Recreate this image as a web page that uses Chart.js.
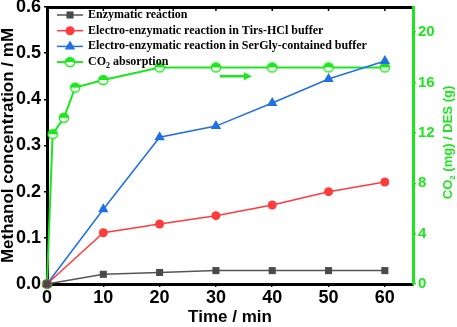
<!DOCTYPE html>
<html>
<head>
<meta charset="utf-8">
<script src="https://cdn.jsdelivr.net/npm/chart.js@4.4.0/dist/chart.umd.min.js"></script>
<style>
  html, body { margin: 0; padding: 0; background: #fff; }
  #chart { display: block; }
</style>
</head>
<body>
<canvas id="chart" width="457" height="327"></canvas>
<script>
// data
const timeMin = [0, 10, 20, 30, 40, 50, 60];
const enzymatic = [0, 0.021, 0.025, 0.029, 0.029, 0.029, 0.029];
const trisHCl = [0, 0.111, 0.130, 0.148, 0.171, 0.200, 0.221];
const serGly = [0, 0.162, 0.318, 0.342, 0.392, 0.444, 0.483];
const co2Time = [0, 1, 3, 5, 10, 20, 30, 40, 50, 60];
const co2Absorb = [0, 11.9, 13.2, 15.6, 16.2, 17.2, 17.2, 17.2, 17.2, 17.2];

const timeTicks = [0, 10, 20, 30, 40, 50, 60];
const methanolTicks = [0, 0.1, 0.2, 0.3, 0.4, 0.5, 0.6];
const co2Ticks = [0, 4, 8, 12, 16, 20];

const seriesLabels = [
  "Enzymatic reaction",
  "Electro-enzymatic reaction in Tirs-HCl buffer",
  "Electro-enzymatic reaction in SerGly-contained buffer",
  "CO₂ absorption",
];
const xTitle = "Time / min";
const yTitle = "Methanol concentration / mM";
const y2Title = "CO₂ (mg) / DES (g)";

const GRAY = "#4a4a4a";
const RED = "#ff3b3b";
const BLUE = "#1f6fe6";
const GREEN = "#1ee61e";
const SANS = "'Liberation Sans', Arial, sans-serif";
const SERIF = "'Liberation Serif', 'Times New Roman', serif";

function toXY(xs, ys) {
  return xs.map((x, i) => ({ x: x, y: ys[i] }));
}

// half filled circle marker (top half green)
function halfCircle(r) {
  const c = document.createElement("canvas");
  const s = 12;
  c.width = s;
  c.height = s;
  const g = c.getContext("2d");
  const m = s / 2;
  g.beginPath();
  g.arc(m, m, r, 0, Math.PI * 2);
  g.fillStyle = "#fff";
  g.fill();
  g.beginPath();
  g.arc(m, m, r, Math.PI, 0);
  g.closePath();
  g.fillStyle = GREEN;
  g.fill();
  g.beginPath();
  g.arc(m, m, r, 0, Math.PI * 2);
  g.lineWidth = 1.5;
  g.strokeStyle = GREEN;
  g.stroke();
  return c;
}
const co2Marker = halfCircle(4.6);

// text with a "₂" drawn as a real subscript
function drawSubText(ctx, text, x, y, size, weight, family, color) {
  const parts = text.split("₂");
  ctx.fillStyle = color;
  ctx.textBaseline = "middle";
  ctx.textAlign = "left";
  let cx = x;
  parts.forEach((p, i) => {
    ctx.font = weight + " " + size + "px " + family;
    ctx.fillText(p, cx, y);
    cx += ctx.measureText(p).width;
    if (i < parts.length - 1) {
      ctx.font = weight + " " + Math.round(size * 0.65) + "px " + family;
      ctx.fillText("2", cx, y + size * 0.3);
      cx += ctx.measureText("2").width;
    }
  });
  return cx - x;
}
function measureSubText(ctx, text, size, weight, family) {
  const parts = text.split("₂");
  let w = 0;
  parts.forEach((p, i) => {
    ctx.font = weight + " " + size + "px " + family;
    w += ctx.measureText(p).width;
    if (i < parts.length - 1) {
      ctx.font = weight + " " + Math.round(size * 0.65) + "px " + family;
      w += ctx.measureText("2").width;
    }
  });
  return w;
}

function drawMarker(ctx, ds, x, y) {
  const style = ds.pointStyle;
  const r = ds.pointRadius;
  ctx.save();
  ctx.fillStyle = ds.pointBackgroundColor;
  if (style instanceof HTMLCanvasElement) {
    ctx.drawImage(style, x - style.width / 2, y - style.height / 2);
  } else if (style === "rect") {
    const s = r * Math.SQRT1_2;
    ctx.fillRect(x - s, y - s, 2 * s, 2 * s);
  } else if (style === "triangle") {
    ctx.beginPath();
    ctx.moveTo(x, y - r);
    ctx.lineTo(x + r * 0.866, y + r * 0.5);
    ctx.lineTo(x - r * 0.866, y + r * 0.5);
    ctx.closePath();
    ctx.fill();
  } else {
    ctx.beginPath();
    ctx.arc(x, y, r, 0, Math.PI * 2);
    ctx.fill();
  }
  ctx.restore();
}

// keep the plot frame where the figure has it
function noVertPadding(s) {
  s.paddingTop = 0;
  s.paddingBottom = 0;
}

const decor = {
  id: "decor",
  afterDraw(chart) {
    const ctx = chart.ctx;
    const area = chart.chartArea;
    const xs = chart.scales.x;
    const y2 = chart.scales.y2;

    // inward ticks on the top frame
    ctx.save();
    ctx.strokeStyle = "#000";
    ctx.lineWidth = 1.5;
    timeTicks.forEach((t) => {
      if (t === 0) return;
      const px = xs.getPixelForValue(t);
      ctx.beginPath();
      ctx.moveTo(px, area.top);
      ctx.lineTo(px, area.top + 4);
      ctx.stroke();
    });
    ctx.restore();

    // arrow pointing to the right-hand axis
    const ax0 = xs.getPixelForValue(30.7);
    const ax1 = xs.getPixelForValue(36.4);
    const ay = y2.getPixelForValue(16.5);
    ctx.save();
    ctx.strokeStyle = GREEN;
    ctx.fillStyle = GREEN;
    ctx.lineWidth = 2.5;
    ctx.beginPath();
    ctx.moveTo(ax0, ay);
    ctx.lineTo(ax1 - 6, ay);
    ctx.stroke();
    ctx.beginPath();
    ctx.moveTo(ax1, ay);
    ctx.lineTo(ax1 - 8, ay - 4);
    ctx.lineTo(ax1 - 8, ay + 4);
    ctx.closePath();
    ctx.fill();
    ctx.restore();

    // right axis title, reading bottom to top
    ctx.save();
    const midY = (area.top + area.bottom) / 2 - 3;
    const tw = measureSubText(ctx, y2Title, 13, "bold", SANS);
    ctx.translate(448.5, midY);
    ctx.rotate(-Math.PI / 2);
    drawSubText(ctx, y2Title, -tw / 2, 0, 13, "bold", SANS, GREEN);
    ctx.restore();

    // legend in the upper left corner
    ctx.save();
    const lx = area.left + 10;
    let ly = area.top + 8;
    chart.data.datasets.forEach((ds) => {
      ctx.strokeStyle = ds.borderColor;
      ctx.lineWidth = ds.borderWidth;
      ctx.beginPath();
      ctx.moveTo(lx, ly);
      ctx.lineTo(lx + 26, ly);
      ctx.stroke();
      drawMarker(ctx, ds, lx + 13, ly);
      drawSubText(ctx, ds.label, lx + 31, ly, 12, "bold", SERIF, "#000");
      ly += 15.7;
    });
    ctx.restore();
  },
};

new Chart(document.getElementById("chart"), {
  type: "line",
  data: {
    datasets: [
      {
        label: seriesLabels[0],
        data: toXY(timeMin, enzymatic),
        borderColor: "#555",
        borderWidth: 1.5,
        pointStyle: "rect",
        pointRadius: 5,
        pointBackgroundColor: GRAY,
        pointBorderColor: GRAY,
        pointBorderWidth: 0,
        yAxisID: "y",
        clip: false,
      },
      {
        label: seriesLabels[1],
        data: toXY(timeMin, trisHCl),
        borderColor: RED,
        borderWidth: 1.5,
        pointStyle: "circle",
        pointRadius: 4.5,
        pointBackgroundColor: RED,
        pointBorderColor: RED,
        pointBorderWidth: 0,
        yAxisID: "y",
        clip: false,
      },
      {
        label: seriesLabels[2],
        data: toXY(timeMin, serGly),
        borderColor: BLUE,
        borderWidth: 1.5,
        pointStyle: "triangle",
        pointRadius: 6,
        pointBackgroundColor: BLUE,
        pointBorderColor: BLUE,
        pointBorderWidth: 0,
        yAxisID: "y",
        clip: false,
      },
      {
        label: seriesLabels[3],
        data: toXY(co2Time, co2Absorb),
        borderColor: GREEN,
        borderWidth: 2,
        pointStyle: co2Marker,
        pointRadius: 4.6,
        pointBackgroundColor: GREEN,
        pointBorderColor: GREEN,
        yAxisID: "y2",
        clip: false,
      },
    ],
  },
  options: {
    responsive: false,
    animation: false,
    events: [],
    layout: { padding: { top: 7, left: 0, right: 0, bottom: 0 } },
    elements: { line: { tension: 0 } },
    plugins: {
      legend: { display: false },
      tooltip: { enabled: false },
    },
    scales: {
      x: {
        type: "linear",
        position: "bottom",
        min: 0,
        max: 65,
        afterBuildTicks: (s) => { s.ticks = timeTicks.map((v) => ({ value: v })); },
        afterFit: (s) => { s.height = 43; },
        ticks: {
          color: "#000",
          font: { family: SANS, size: 18, weight: "bold" },
          padding: 0,
          maxRotation: 0,
        },
        grid: { drawOnChartArea: false, tickLength: 3, color: "#000", lineWidth: 1.5 },
        border: { color: "#000", width: 3 },
        title: {
          display: true,
          text: xTitle,
          color: "#000",
          font: { family: SANS, size: 17, weight: "bold", lineHeight: 1 },
          padding: { top: 0, bottom: 1 },
        },
      },
      xTop: {
        type: "linear",
        position: "top",
        min: 0,
        max: 65,
        afterFit: (s) => { s.height = 0; },
        ticks: { display: false },
        grid: { display: false },
        border: { color: "#000", width: 3 },
      },
      y: {
        type: "linear",
        position: "left",
        min: 0,
        max: 0.6,
        afterBuildTicks: (s) => { s.ticks = methanolTicks.map((v) => ({ value: v })); },
        afterFit: (s) => { s.width = 47; noVertPadding(s); },
        ticks: {
          color: "#000",
          font: { family: SANS, size: 18, weight: "bold" },
          padding: 3,
          callback: (v) => v.toFixed(1),
        },
        grid: { drawOnChartArea: false, tickLength: 3, color: "#000", lineWidth: 1.5 },
        border: { color: "#000", width: 3 },
        title: {
          display: true,
          text: yTitle,
          color: "#000",
          font: { family: SANS, size: 17, weight: "bold", lineHeight: 1 },
          padding: { top: 0, bottom: 0 },
        },
      },
      y2: {
        type: "linear",
        position: "right",
        min: 0,
        max: 22,
        afterBuildTicks: (s) => { s.ticks = co2Ticks.map((v) => ({ value: v })); },
        afterFit: (s) => { s.width = 44; noVertPadding(s); },
        ticks: {
          color: GREEN,
          font: { family: SANS, size: 15, weight: "bold" },
          padding: 2,
        },
        grid: { drawOnChartArea: false, tickLength: 3, color: GREEN, lineWidth: 1.5 },
        border: { color: GREEN, width: 3 },
      },
    },
  },
  plugins: [decor],
});
</script>
</body>
</html>
